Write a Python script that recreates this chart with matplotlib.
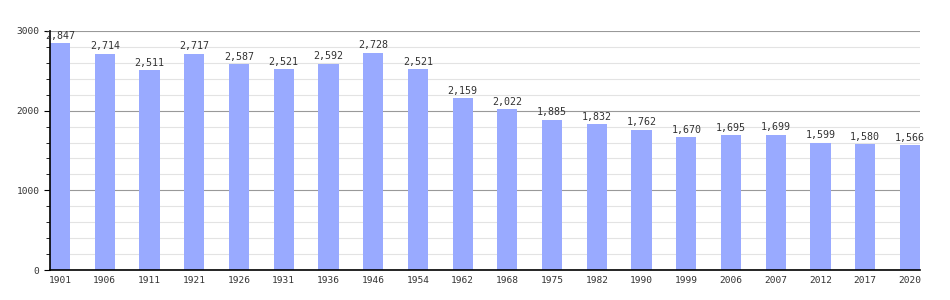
import matplotlib
matplotlib.use('Agg')
import matplotlib.pyplot as plt
from matplotlib.ticker import MultipleLocator

years = ['1901', '1906', '1911', '1921', '1926', '1931', '1936', '1946', '1954', '1962',
         '1968', '1975', '1982', '1990', '1999', '2006', '2007', '2012', '2017', '2020']
population = [2847, 2714, 2511, 2717, 2587, 2521, 2592, 2728, 2521, 2159,
              2022, 1885, 1832, 1762, 1670, 1695, 1699, 1599, 1580, 1566]

plt.rcParams['font.family'] = ['DejaVu Sans Mono']

fig = plt.figure(figsize=(9.5, 3), dpi=100)
ax = fig.add_axes([50 / 950, 30 / 300, 870 / 950, 239 / 300])

x = range(len(years))
ax.bar(x, population, width=0.45, color='#99aaff', zorder=2)

for xi, v in zip(x, population):
    ax.text(xi, v + 30, f'{v:,}', ha='center', va='bottom', fontsize=7.2, color='#333333', zorder=3)

ax.set_xlim(-0.225, len(years) - 1 + 0.225)
ax.set_ylim(0, 3000)
ax.set_xticks(list(x))
ax.set_xticklabels(years)
ax.yaxis.set_major_locator(MultipleLocator(1000))
ax.yaxis.set_minor_locator(MultipleLocator(200))
ax.grid(axis='y', which='major', color='#999999', linewidth=0.8, zorder=0)
ax.grid(axis='y', which='minor', color='#e3e3e3', linewidth=0.8, zorder=0)

for s in ['top', 'right']:
    ax.spines[s].set_visible(False)
ax.spines['left'].set_linewidth(1.2)
ax.spines['bottom'].set_linewidth(1.2)
ax.tick_params(axis='x', length=0, labelsize=6.8, colors='#333333', pad=4)
ax.tick_params(axis='y', which='major', length=4, labelsize=6.8, labelcolor='#333333')
ax.tick_params(axis='y', which='minor', length=3)

fig.savefig('out.png')
